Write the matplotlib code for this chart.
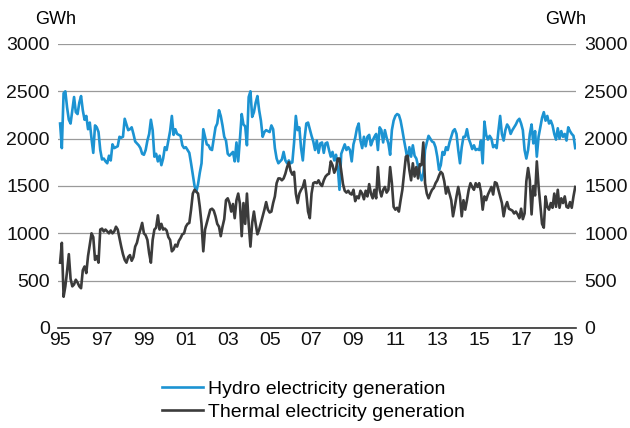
import numpy as np
import matplotlib
matplotlib.use("Agg")
import matplotlib.pyplot as plt

plt.rcParams["font.family"] = ["Liberation Sans", "DejaVu Sans"]

start_year = 1995

# monthly values, GWh, Jan 1995 - Aug 2019
hydro = [
    2160, 1900, 2480, 2500, 2330, 2200, 2160, 2300, 2440, 2280, 2260, 2380,  # 1995
    2450, 2300, 2200, 2240, 2100, 2170, 2000, 1850, 2140, 2120, 2070, 1880,  # 1996
    1780, 1790, 1760, 1740, 1820, 1770, 1940, 1900, 1910, 1920, 2020, 2010,  # 1997
    2020, 2210, 2150, 2090, 2100, 2120, 2050, 1970, 1950, 1930, 1900, 1840,  # 1998
    1830, 1880, 1980, 2050, 2200, 2090, 1810, 1840, 1760, 1820, 1720, 1790,  # 1999
    1910, 1880, 1980, 2080, 2240, 2040, 2100, 2050, 2040, 2030, 1930, 1900,  # 2000
    1910, 1880, 1850, 1740, 1620, 1500, 1440, 1520, 1640, 1740, 2100, 2020,  # 2001
    1940, 1930, 1890, 1880, 2000, 2120, 2160, 2300, 2240, 2140, 2020, 1980,  # 2002
    1840, 1820, 1840, 1860, 1760, 1960, 1760, 2000, 2260, 2150, 2130, 1930,  # 2003
    2440, 2500, 2230, 2280, 2380, 2450, 2300, 2190, 2020, 2070, 2090, 2080,  # 2004
    2070, 2140, 2100, 1900, 1790, 1740, 1760, 1780, 1860, 1770, 1740, 1770,  # 2005
    1740, 1750, 1960, 2240, 2090, 2120, 1900, 1770, 2000, 2160, 2170, 2100,  # 2006
    2030, 1970, 1880, 1980, 1850, 1950, 1960, 1850, 1950, 1960, 1880, 1810,  # 2007
    1860, 1770, 1830, 1700, 1460, 1840, 1890, 1940, 1880, 1910, 1880, 1760,  # 2008
    1940, 2010, 2110, 2160, 1980, 1900, 2020, 1920, 2020, 2040, 1930, 1980,  # 2009
    2020, 2050, 1880, 2120, 2090, 1960, 2090, 2010, 1950, 1830, 2090, 2190,  # 2010
    2240, 2260, 2250, 2190, 2090, 1980, 1880, 1770, 1910, 1810, 1930, 1820,  # 2011
    1790, 1710, 1640, 1560, 1630, 1880, 1960, 2030, 2000, 1970, 1960, 1910,  # 2012
    1810, 1670, 1720, 1860, 1830, 1910, 1880, 1960, 2020, 2080, 2100, 2050,  # 2013
    1880, 1740, 1910, 2020, 2020, 2100, 2000, 1950, 1890, 1930, 1880, 1890,  # 2014
    1880, 1980, 1740, 2180, 2040, 1990, 2030, 2000, 1910, 1930, 1900, 2080,  # 2015
    2240, 2050, 1980, 2090, 2150, 2120, 2050, 2090, 2120, 2150, 2190, 2210,  # 2016
    2160, 2090, 1880, 1790, 1880, 2050, 2150, 1950, 2080, 1810, 2020, 2120,  # 2017
    2220, 2280, 2190, 2240, 2160, 2190, 2140, 2050, 1990, 2110, 2000, 2080,  # 2018
    2020, 2050, 1980, 2120, 2080, 2050, 2030, 1900,                          # 2019
]
thermal = [
    690, 900, 330, 440, 600, 780, 520, 440, 460, 510, 480, 440,              # 1995
    420, 610, 650, 580, 760, 880, 1000, 960, 720, 760, 690, 1040,            # 1996
    1050, 1020, 1040, 1020, 1000, 1030, 1000, 1020, 1070, 1040, 950, 860,    # 1997
    780, 720, 690, 750, 770, 710, 750, 860, 900, 980, 1040, 1110,            # 1998
    1000, 980, 930, 790, 690, 930, 1040, 1060, 1190, 1040, 1100, 1040,       # 1999
    1050, 1030, 960, 930, 810, 830, 880, 860, 920, 950, 990, 1000,           # 2000
    1070, 1100, 1110, 1250, 1420, 1460, 1440, 1420, 1280, 1100, 810, 1040,   # 2001
    1110, 1180, 1250, 1260, 1240, 1180, 1100, 1070, 970, 1070, 1150, 1350,   # 2002
    1370, 1320, 1230, 1310, 1160, 1350, 1420, 1310, 970, 1320, 1100, 1420,   # 2003
    1100, 860, 1110, 1230, 1100, 990, 1040, 1110, 1180, 1250, 1330, 1250,    # 2004
    1220, 1230, 1320, 1390, 1530, 1580, 1580, 1560, 1580, 1630, 1700, 1750,  # 2005
    1660, 1620, 1650, 1420, 1320, 1420, 1460, 1490, 1560, 1420, 1230, 1160,  # 2006
    1420, 1530, 1540, 1530, 1560, 1520, 1500, 1560, 1600, 1620, 1630, 1760,  # 2007
    1720, 1640, 1680, 1790, 1790, 1660, 1520, 1450, 1430, 1450, 1420, 1410,  # 2008
    1460, 1340, 1390, 1370, 1450, 1420, 1360, 1450, 1390, 1520, 1420, 1370,  # 2009
    1460, 1370, 1700, 1460, 1390, 1460, 1490, 1430, 1460, 1700, 1530, 1280,  # 2010
    1250, 1270, 1230, 1350, 1460, 1630, 1810, 1820, 1670, 1560, 1740, 1600,  # 2011
    1700, 1580, 1730, 1720, 1960, 1530, 1420, 1370, 1420, 1460, 1480, 1530,  # 2012
    1560, 1610, 1650, 1630, 1550, 1420, 1490, 1420, 1350, 1180, 1280, 1390,  # 2013
    1490, 1390, 1180, 1350, 1250, 1350, 1460, 1530, 1490, 1460, 1530, 1490,  # 2014
    1530, 1440, 1250, 1390, 1350, 1410, 1450, 1490, 1410, 1540, 1530, 1460,  # 2015
    1390, 1320, 1180, 1280, 1330, 1260, 1250, 1240, 1210, 1230, 1200, 1160,  # 2016
    1260, 1150, 1210, 1550, 1690, 1560, 1200, 1500, 1400, 1760, 1500, 1300,  # 2017
    1100, 1060, 1390, 1280, 1250, 1320, 1270, 1420, 1280, 1460, 1270, 1370,  # 2018
    1320, 1390, 1280, 1270, 1330, 1270, 1390, 1490,                          # 2019
]
year_ticks = list(range(1995, 2020, 2))
tick_labels = ["%02d" % (y % 100) for y in year_ticks]
y_ticks = [0, 500, 1000, 1500, 2000, 2500, 3000]

t = start_year + np.arange(len(hydro)) / 12.0
fs = 14

fig = plt.figure(figsize=(6.3, 4.28), dpi=100)
ax = fig.add_axes([58 / 630, 1 - 328 / 428, (576 - 58) / 630, (328 - 44) / 428])

ax.plot(t, hydro, color="#1c93d2", lw=1.9, label="Hydro electricity generation", zorder=3)
ax.plot(t, thermal, color="#3b3b3b", lw=1.9, label="Thermal electricity generation", zorder=3)

ax.set_xlim(1994.9, 2019.62)
ax.set_ylim(0, 3000)
ax.set_yticks(y_ticks)
ax.set_xticks(year_ticks)
ax.set_xticklabels(tick_labels)
ax.grid(axis="y", color="#9a9a9a", lw=0.9)
ax.set_axisbelow(True)
for s in ["left", "right", "top"]:
    ax.spines[s].set_visible(False)
ax.spines["bottom"].set_color("#333333")
ax.spines["bottom"].set_linewidth(1.2)
ax.tick_params(axis="both", length=0, labelsize=fs, colors="#111111")
ax.tick_params(axis="x", pad=3)
ax.tick_params(axis="y", pad=6, labelright=True)

fig.text(56 / 630, 1 - 20 / 428, "GWh", ha="center", va="center", fontsize=13)
fig.text(566 / 630, 1 - 20 / 428, "GWh", ha="center", va="center", fontsize=13)

fig.legend(loc="upper left", bbox_to_anchor=(162 / 630, 1 - 380 / 428), frameon=False,
           fontsize=fs, handlelength=2.1, handletextpad=0.25, labelspacing=0.3,
           borderaxespad=0, borderpad=0)

fig.savefig("out.png", dpi=100)
